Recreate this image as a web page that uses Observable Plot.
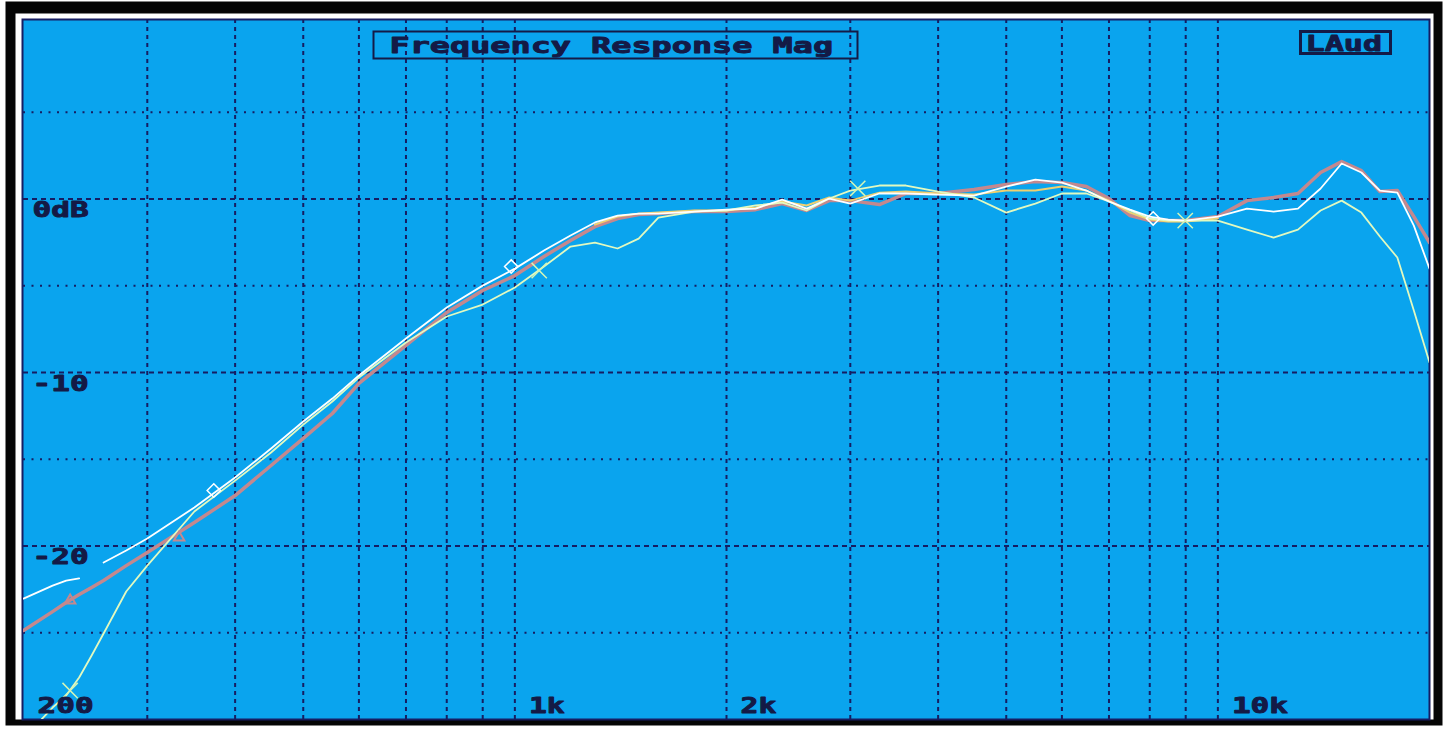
<!DOCTYPE html>
<html><head><meta charset="utf-8">
<script src="https://cdn.jsdelivr.net/npm/d3@7"></script>
<script src="https://cdn.jsdelivr.net/npm/@observablehq/plot@0.6"></script>
<style>
html,body{margin:0;padding:0;background:#ffffff;}
#chart svg{display:block;}
</style></head><body><div id="chart"></div>
<script>
// ---- data (frequency in Hz, level in dB) ----
const freqHz = [200,220,230,240,250,260,280,300,350,400,450,500,550,600,700,800,900,1000,1100,1200,1300,1400,1500,1600,1800,2000,2200,2400,2600,2800,3000,3300,3600,4000,4500,5000,5500,6000,6500,7000,7500,8000,8500,9000,10000,11000,12000,13000,14000,15000,16000,17000,18000,19000,20000];
const mauveDb = [-24.87,-23.78,-23.26,-22.80,-22.39,-21.99,-21.13,-20.38,-18.65,-17.09,-15.36,-13.80,-12.36,-10.63,-8.44,-6.54,-5.27,-4.41,-3.31,-2.39,-1.59,-1.12,-0.89,-0.84,-0.72,-0.72,-0.61,-0.26,-0.66,-0.09,-0.09,-0.32,0.32,0.32,0.55,0.84,1.01,0.95,0.72,0.03,-0.95,-1.24,-1.24,-1.24,-1.01,-0.09,0.09,0.32,1.53,2.16,1.64,0.43,0.49,-1.01,-2.51];
const whiteDb = [-23.03,-22.28,-21.99,-21.87,null,-20.95,-20.26,-19.57,-17.78,-16.05,-14.38,-12.82,-11.50,-10.17,-8.04,-6.25,-4.99,-4.01,-2.97,-2.10,-1.35,-0.95,-0.84,-0.84,-0.72,-0.61,-0.55,-0.03,-0.55,0.03,-0.26,0.32,0.32,0.26,0.20,0.72,1.12,0.95,0.49,-0.14,-0.61,-1.01,-1.18,-1.24,-1.01,-0.55,-0.72,-0.55,0.61,2.05,1.53,0.49,0.37,-1.53,-4.01];
const yellowDb = [null,null,null,null,null,null,null,null,null,null,null,null,null,null,null,null,null,null,null,null,-1.47,-1.01,-0.84,-0.78,-0.66,-0.66,-0.49,-0.14,-0.37,0.09,-0.09,0.37,0.43,0.32,0.26,0.49,0.49,0.72,0.49,-0.09,-0.78,-1.18,-1.30,-1.30,-1.12,null,null,null,null,null,null,null,null,null,null];
const greenDb = [-31.10,-29.31,-28.62,-27.58,-26.31,-25.04,-22.62,-21.13,-18.01,-16.23,-14.61,-13.00,-11.67,-10.29,-8.27,-6.77,-6.08,-5.10,-3.89,-2.74,-2.51,-2.85,-2.28,-1.07,-0.72,-0.66,-0.37,-0.20,-0.66,0.03,0.49,0.78,0.78,0.43,0.09,-0.78,-0.26,0.32,0.32,-0.14,-0.66,-1.12,-1.24,-1.24,-1.24,-1.76,-2.22,-1.76,-0.66,-0.09,-0.78,-2.16,-3.37,-6.43,-9.42];

// trace markers
const whiteMarkHz = [373, 988, 8090];
const whiteMarkDb = [-16.80, -3.89, -1.12];
const greenMarkHz = [233, 1083, 3074, 8986];
const greenMarkDb = [-28.33, -4.12, 0.61, -1.24];
const mauveMarkHz = [233, 333];
const mauveMarkDb = [-23.14, -19.51];

// grid & labels
const gridHz = [300,400,500,600,700,800,900,1000,2000,3000,4000,5000,6000,7000,8000,9000,10000];
const majorDb = [0,-10,-20];
const minorDb = [5,-5,-15,-25];
const yTickDb = [0,-10,-20];
const yTickLabels = ["0dB","-10","-20"];
const xTickHz = [200,1000,2000,10000];
const xTickLabels = ["200","1k","2k","10k"];
const titleText = "Frequency Response Mag";
const badgeText = "LAud";

// ---- build ----
const toRows = dbs => freqHz.map((f, i) => ({f, db: dbs[i]}));
const toMarks = (hz, dbs) => hz.map((f, i) => ({f, db: dbs[i]}));

const BLUE = "#0aa4ee";
const NAVY = "#161d62";
const INK = "#141a46";
const FONT = "DejaVu Sans Mono";
const txt = {lineAnchor: "bottom", textAnchor: "start", fill: INK, stroke: INK, strokeWidth: 0.9, fontFamily: FONT, fontWeight: "bold", fontSize: 22};

const plot = Plot.plot({
  width: 1446,
  height: 731,
  marginLeft: 23,
  marginRight: 17,
  marginTop: 19,
  marginBottom: 12,
  x: {type: "log", domain: [200, 20000], axis: null},
  y: {domain: [-30, 10.35], axis: null},
  style: {background: "#ffffff"},
  marks: [
    // outer black band, inner white band, blue plotting field
    Plot.frame({fill: "#050505", stroke: null, insetLeft: -18, insetTop: -18, insetRight: -13, insetBottom: -6}),
    Plot.frame({fill: "#ffffff", stroke: null, insetLeft: -8, insetTop: -6, insetRight: -4, insetBottom: 0}),
    Plot.frame({fill: BLUE, stroke: NAVY, strokeWidth: 2, insetLeft: -1, insetTop: 0, insetRight: 0, insetBottom: 0}),
    // grid
    Plot.ruleX(gridHz, {stroke: NAVY, strokeWidth: 2, strokeDasharray: "4,4"}),
    Plot.ruleY(minorDb, {stroke: NAVY, strokeWidth: 2, strokeDasharray: "2,6.5"}),
    Plot.ruleY(majorDb, {stroke: NAVY, strokeWidth: 2, strokeDasharray: "5,4"}),
    // traces
    Plot.line(toRows(mauveDb), {x: "f", y: "db", stroke: "#c4888e", strokeWidth: 3.5, clip: true}),
    Plot.line(toRows(yellowDb), {x: "f", y: "db", stroke: "#f0d070", strokeWidth: 2, clip: true}),
    Plot.line(toRows(greenDb), {x: "f", y: "db", stroke: "#e2f9c0", strokeWidth: 1.8, clip: true}),
    Plot.line(toRows(whiteDb), {x: "f", y: "db", stroke: "#ffffff", strokeWidth: 1.8, clip: true}),
    Plot.dot(toMarks(mauveMarkHz, mauveMarkDb), {x: "f", y: "db", symbol: "triangle2", r: 5, stroke: "#c4888e", strokeWidth: 2}),
    Plot.dot(toMarks(greenMarkHz, greenMarkDb), {x: "f", y: "db", symbol: "times", r: 7, stroke: "#d2f5b8", strokeWidth: 1.5}),
    Plot.dot(toMarks(whiteMarkHz, whiteMarkDb), {x: "f", y: "db", symbol: "diamond2", r: 6, stroke: "#ffffff", strokeWidth: 1.5}),
    // title box and badge box
    Plot.frame({stroke: INK, strokeWidth: 2, fill: null, insetLeft: 350, insetRight: 572, insetTop: 12, insetBottom: 661}),
    Plot.frame({stroke: INK, strokeWidth: 3, fill: null, insetLeft: 1277, insetRight: 39, insetTop: 12, insetBottom: 666}),
    Plot.text([titleText], {...txt, frameAnchor: "top-left", dx: 366, dy: 33}),
    Plot.text([badgeText], {...txt, frameAnchor: "top-left", dx: 1282, dy: 31}),
    // axis labels
    Plot.text(yTickDb, {...txt, x: 200, y: d => d, text: (d, i) => yTickLabels[i], dx: 9, dy: 18}),
    Plot.text(xTickHz, {...txt, x: d => d, y: -30, text: (d, i) => xTickLabels[i], dx: 14, dy: -7})
  ]
});

document.getElementById("chart").append(plot);

// widen the glyphs horizontally like the original bitmap font
plot.querySelectorAll('g[aria-label="text"] text').forEach(t => {
  const n = t.textContent.length;
  const natural = t.getComputedTextLength();
  const target = n * 20.4 - 5;
  const s = target / natural;
  const tr = t.getAttribute("transform") || "";
  t.setAttribute("transform", `${tr} scale(${s.toFixed(3)},1)`);
});
</script>
</body></html>
